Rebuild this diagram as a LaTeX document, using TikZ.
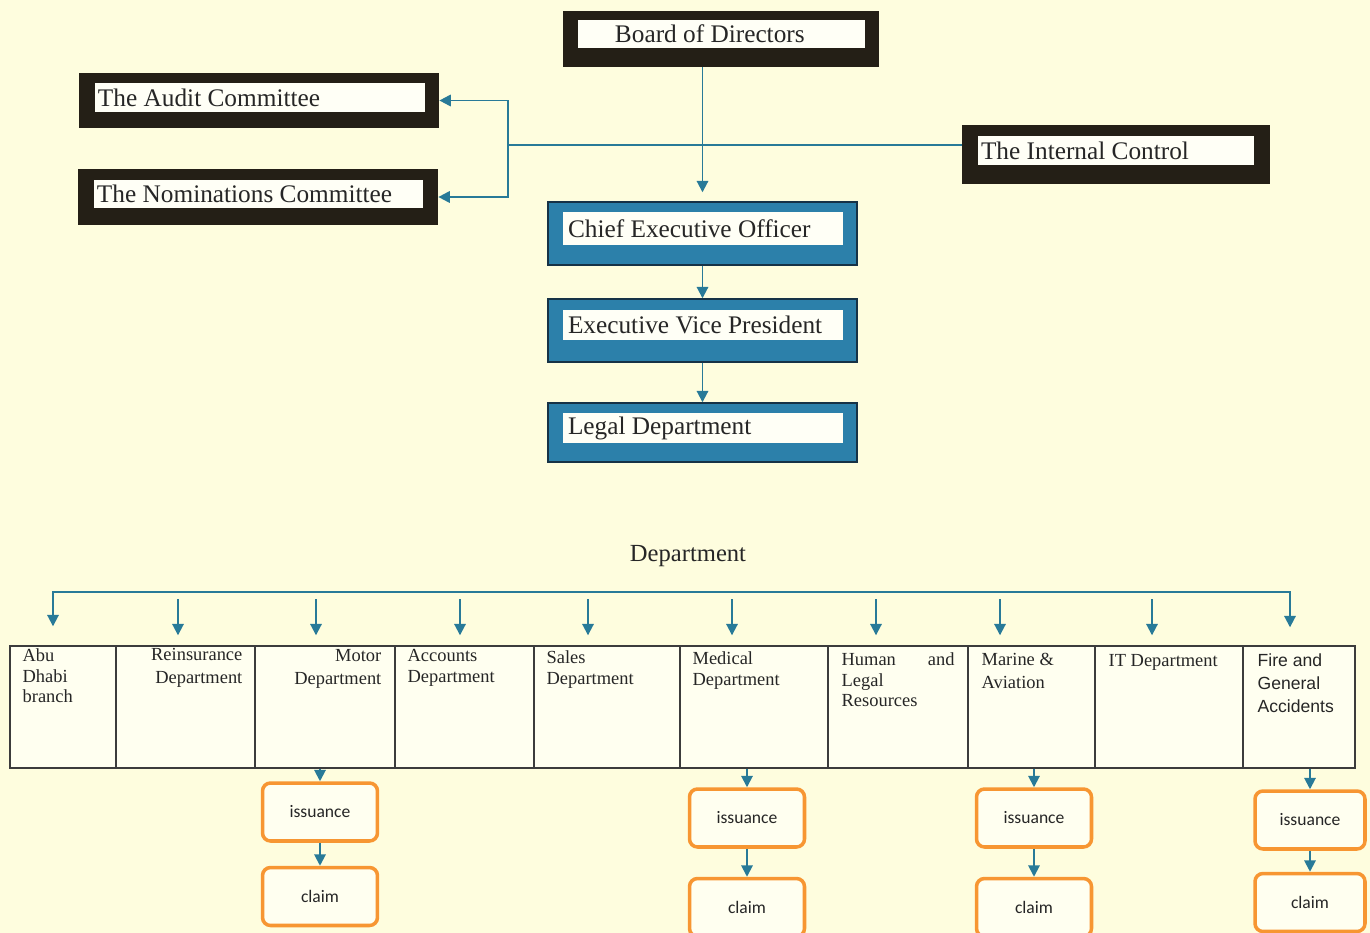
\documentclass[tikz,border=0pt]{standalone}
\usepackage{fontspec}
\setmainfont{Liberation Serif}
\newfontfamily\calibrifont{Carlito}
\newfontfamily\arialfont{Liberation Sans}
\usetikzlibrary{arrows.meta,fit,positioning}

\definecolor{bgcream}{RGB}{254,253,222}
\definecolor{framedark}{RGB}{36,31,22}
\definecolor{boxblue}{RGB}{44,128,170}
\definecolor{boxnavy}{RGB}{22,50,70}
\definecolor{barwhite}{RGB}{255,255,246}
\definecolor{linkteal}{RGB}{40,122,152}
\definecolor{cellfill}{RGB}{255,255,240}
\definecolor{celldraw}{RGB}{60,60,60}
\definecolor{boxorange}{RGB}{247,150,50}
\definecolor{inkgray}{RGB}{38,38,38}

\tikzset{
  darkframe/.style={fill=framedark, draw=none, inner sep=0pt},
  blueframe/.style={fill=boxblue, draw=boxnavy, line width=0.8pt, inner sep=0pt},
  whitebar/.style={fill=barwhite, draw=none, inner sep=0pt},
  toptext/.style={inner sep=0pt, text=inkgray, font=\fontsize{14.4}{16}\selectfont},
  link/.style={linkteal, line width=1.1pt},
  cell/.style={fill=cellfill, draw=celldraw, line width=0.8pt, inner sep=0pt},
  celltext/.style={inner sep=0pt, text=inkgray, align=left, font=\fontsize{10.5}{11.7}\selectfont},
  orangebox/.style={draw=boxorange, fill=cellfill, line width=2pt, rounded corners=0.16cm,
    minimum width=2.3cm, minimum height=1.16cm, text=inkgray, font=\calibrifont\fontsize{10}{12}\selectfont}
}

\begin{document}
\begin{tikzpicture}[x=0.02cm, y=-0.02cm, >={Triangle[length=6.5pt,width=6.5pt]}]

  % page
  \fill[bgcream] (0,0) rectangle (1370,933);
  \useasboundingbox (0,0) rectangle (1370,933);

  % board and committees
  \node[darkframe, fit={(563,11) (879,67)}] (bod) {};
  \node[whitebar, fit={(578,20) (865,48)}] (bod-in) {};
  \node[toptext, anchor=west] at ([xshift=0.74cm]bod-in.west) {Board of Directors};

  \node[darkframe, fit={(79,73) (439,128)}] (ac) {};
  \node[whitebar, fit={(95,83) (425,112)}] (ac-in) {};
  \node[toptext, anchor=west] at ([xshift=0.06cm]ac-in.west) {The Audit Committee};

  \node[darkframe, fit={(78,169) (438,225)}] (nc) {};
  \node[whitebar, fit={(94,180) (423,208)}] (nc-in) {};
  \node[toptext, anchor=west] at ([xshift=0.06cm]nc-in.west) {The Nominations Committee};

  \node[darkframe, fit={(962,125) (1270,184)}] (ic) {};
  \node[whitebar, fit={(978,136) (1254,165)}] (ic-in) {};
  \node[toptext, anchor=west] at ([xshift=0.06cm]ic-in.west) {The Internal Control};

  % executive line
  \node[blueframe, fit={(548,202) (857,265)}] (ceo) {};
  \node[whitebar, fit={(563,212) (843,245)}] (ceo-in) {};
  \node[toptext, anchor=west] at ([xshift=0.1cm]ceo-in.west) {Chief Executive Officer};

  \node[blueframe, fit={(548,299) (857,362)}] (evp) {};
  \node[whitebar, fit={(563,310) (843,340)}] (evp-in) {};
  \node[toptext, anchor=west] at ([xshift=0.1cm]evp-in.west) {Executive Vice President};

  \node[blueframe, fit={(548,403) (857,462)}] (legal) {};
  \node[whitebar, fit={(563,413) (843,443)}] (legal-in) {};
  \node[toptext, anchor=west] at ([xshift=0.1cm]legal-in.west) {Legal Department};

  \coordinate (jn) at (508,145);
  \draw[link,->,shorten >=0.18cm] (ceo.north |- bod.south) -- (ceo.north);
  \draw[link] (jn) -- (jn -| ic.west);
  \draw[link,->] (jn) |- (ac.east);
  \draw[link,->] (jn) |- (nc.east);
  \draw[link,->] (ceo) -- (evp);
  \draw[link,->] (evp) -- (legal);

  % departments
  \node[toptext, font=\fontsize{14}{16}\selectfont] (dept) at (688,556) {Department};

  \node[cell, fit={(10,646) (116,768)}] (abu) {};
  \node[cell, fit={(116,646) (255,768)}] (rei) {};
  \node[cell, fit={(255,646) (395,768)}] (mot) {};
  \node[cell, fit={(395,646) (534,768)}] (acc) {};
  \node[cell, fit={(534,646) (680,768)}] (sal) {};
  \node[cell, fit={(680,646) (828,768)}] (med) {};
  \node[cell, fit={(828,646) (968,768)}] (hum) {};
  \node[cell, fit={(968,646) (1095,768)}] (mar) {};
  \node[cell, fit={(1095,646) (1243,768)}] (it) {};
  \node[cell, fit={(1243,646) (1355,768)}] (fire) {};

  \node[celltext, anchor=north west] at ([shift={(13,3)}]abu.north west) {Abu\\Dhabi\\branch};
  \node[celltext, anchor=north east, align=right, font=\fontsize{10.5}{13}\selectfont]
    at ([shift={(-13,3)}]rei.north east) {Reinsurance\\Department};
  \node[celltext, anchor=north east, align=right, font=\fontsize{10.5}{13}\selectfont]
    at ([shift={(-14,4)}]mot.north east) {Motor\\Department};
  \node[celltext, anchor=north west] at ([shift={(13,4)}]acc.north west) {Accounts\\Department};
  \node[celltext, anchor=north west] at ([shift={(13,5)}]sal.north west) {Sales\\Department};
  \node[celltext, anchor=north west] at ([shift={(13,6)}]med.north west) {Medical\\Department};
  \node[celltext, anchor=north west, text width=2.26cm] at ([shift={(14,7)}]hum.north west)
    {Human\hfill and\\Legal\\Resources};
  \node[celltext, anchor=north west, font=\fontsize{10.5}{13}\selectfont]
    at ([shift={(14,8)}]mar.north west) {Marine \&\\Aviation};
  \node[celltext, anchor=north west] at ([shift={(14,9)}]it.north west) {IT Department};
  \node[celltext, anchor=north west, font=\arialfont\fontsize{10}{13}\selectfont]
    at ([shift={(15,8)}]fire.north west) {Fire and\\General\\Accidents};

  \coordinate (dl) at (53,592);
  \coordinate (dr) at (1290,592);
  \draw[link,<->,shorten <=0.38cm,shorten >=0.36cm] (dl |- abu.north) -- (dl) -- (dr) -- (dr |- fire.north);
  \foreach \xa/\c in {178/rei,316/mot,460/acc,588/sal,732/med,876/hum,1000/mar,1152/it} {
    \coordinate (top-\c) at (\xa,599);
    \draw[link,->,shorten >=0.2cm] (top-\c) -- (top-\c |- \c.north);
  }

  % issuance and claim
  \node[orangebox] (mot-iss) at (320,812) {issuance};
  \node[orangebox, below=0.46cm of mot-iss] (mot-clm) {claim};
  \node[orangebox] (med-iss) at (747,818) {issuance};
  \node[orangebox, below=0.56cm of med-iss] (med-clm) {claim};
  \node[orangebox] (mar-iss) at (1034,818) {issuance};
  \node[orangebox, below=0.56cm of mar-iss] (mar-clm) {claim};
  \node[orangebox, minimum width=2.2cm] (fire-iss) at (1310,820) {issuance};
  \node[orangebox, minimum width=2.2cm, below=0.42cm of fire-iss] (fire-clm) {claim};

  \foreach \d in {mot,med,mar,fire} {
    \draw[link,->] (\d-iss.north |- \d.south) -- (\d-iss);
    \draw[link,->] (\d-iss) -- (\d-clm);
  }

\end{tikzpicture}
\end{document}
